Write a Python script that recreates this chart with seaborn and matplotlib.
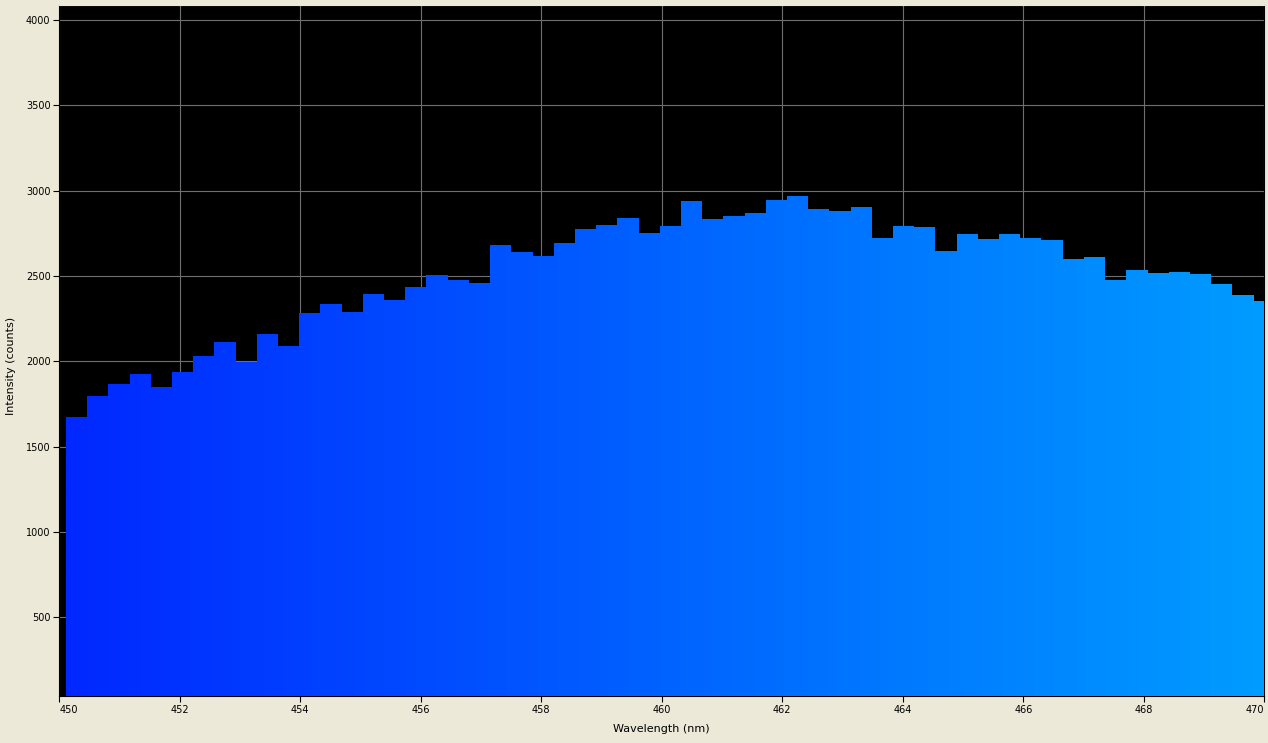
import numpy as np
import pandas as pd
import matplotlib
matplotlib.use("Agg")
import matplotlib.pyplot as plt
from matplotlib.path import Path
from matplotlib.patches import PathPatch
from matplotlib.colors import LinearSegmentedColormap
import seaborn as sns

# ---- data ----
bin_start = 450.11      # left edge of first sample (nm)
bin_step = 0.352        # sample spacing (nm)
intensity = [1673, 1797, 1867, 1926, 1850, 1937, 2031, 2113, 1996, 2160,
             2090, 2283, 2336, 2289, 2394, 2359, 2435, 2506, 2476, 2459,
             2681, 2640, 2617, 2693, 2775, 2798, 2840, 2752, 2793, 2939,
             2834, 2851, 2869, 2945, 2969, 2892, 2881, 2904, 2722, 2793,
             2787, 2646, 2746, 2716, 2746, 2722, 2711, 2599, 2611, 2476,
             2535, 2517, 2523, 2511, 2453, 2388, 2353]
x_ticks = [450, 452, 454, 456, 458, 460, 462, 464, 466, 468, 470]
y_ticks = [500, 1000, 1500, 2000, 2500, 3000, 3500, 4000]

n = len(intensity)
edges = bin_start + bin_step * np.arange(n + 1)
centers = (edges[:-1] + edges[1:]) / 2
df = pd.DataFrame({"wavelength": centers, "intensity": intensity})

# ---- style ----
sns.set_theme(style="white")
plt.rcParams['font.family'] = ['DejaVu Sans']
BG = "#ECE9D8"

fig = plt.figure(figsize=(12.68, 7.43), dpi=100, facecolor=BG)
W, H = 1268, 743
L, R, T, B = 59.3, 1264.3, 5.0, 696.3
ax = fig.add_axes([L / W, 1 - B / H, (R - L) / W, (B - T) / H])
ax.set_facecolor("black")

cmap = LinearSegmentedColormap.from_list("spec", ["#0028ff", "#0063ff", "#009dff"])

sns.histplot(data=df, x="wavelength", weights="intensity", bins=list(edges),
             ax=ax, element="bars", linewidth=0, alpha=1, color="#0060ff",
             zorder=2)

xmin, xmax = 450, 470

# colour each bar by wavelength and build a clip path for a smooth gradient
paths = []
for p in ax.patches:
    cx = p.get_x() + p.get_width() / 2
    p.set_facecolor(cmap((cx - edges[0]) / (edges[-1] - edges[0])))
    p.set_edgecolor("none")
    paths.append(p.get_path().transformed(p.get_patch_transform()))
clip = PathPatch(Path.make_compound_path(*paths), transform=ax.transData,
                 facecolor="none", edgecolor="none")
ax.add_patch(clip)
grad = np.linspace(0, 1, 512).reshape(1, -1)
im = ax.imshow(grad, cmap=cmap, aspect="auto",
               extent=[edges[0], edges[-1], 0, 5000], zorder=3,
               interpolation="bilinear")
im.set_clip_path(clip)
ax.set_xlim(xmin, xmax)
ax.set_ylim(37, 4088)

# grid
ax.set_axisbelow(True)
ax.grid(True, color="#6f6f6f", linewidth=0.8, zorder=0)

ax.set_xticks(x_ticks)
ax.set_yticks(y_ticks)
ax.set_xticklabels([str(v) for v in x_ticks])
ax.set_yticklabels([str(v) for v in y_ticks])
ax.tick_params(axis="both", which="both", direction="out", length=4.3,
               width=0.8, color="black", labelsize=7, pad=2, labelcolor="black",
               bottom=True, left=True)
xt = ax.get_xticklabels()
xt[0].set_horizontalalignment("left")
xt[-1].set_horizontalalignment("right")

for s in ax.spines.values():
    s.set_visible(True)
    s.set_color("black")
    s.set_linewidth(0.8)
ax.spines["top"].set_color(BG)

ax.set_xlabel("Wavelength (nm)", fontsize=8, color="black")
ax.set_ylabel("Intensity (counts)", fontsize=8, color="black")
ax.xaxis.label.set_verticalalignment("center")
ax.yaxis.label.set_verticalalignment("center")
ax.xaxis.set_label_coords(0.5, (B - 729) / (B - T))
ax.yaxis.set_label_coords((11 - L) / (R - L), (B - 366) / (B - T))

fig.savefig("out.png", dpi=100, facecolor=BG)
